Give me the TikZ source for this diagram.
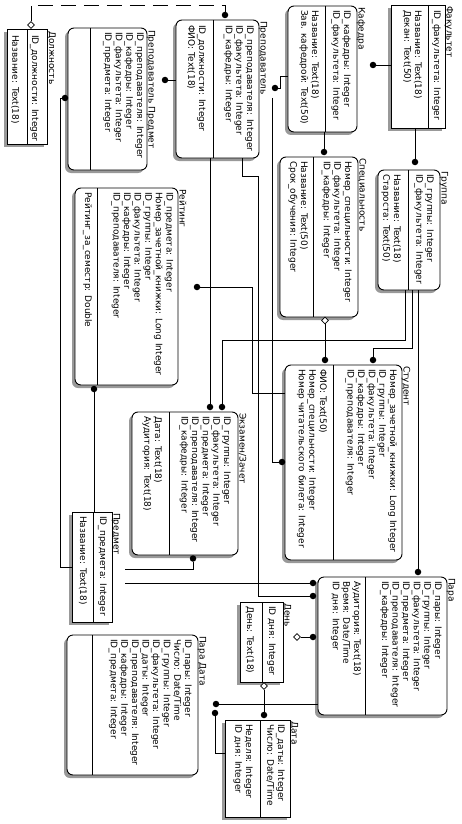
\documentclass[tikz,border=0pt]{standalone}
\usepackage{fontspec}
\setmainfont{DejaVu Sans}
\usetikzlibrary{shapes.geometric}
\newcommand\erfont{\fontsize{9}{10.6}\selectfont}
\newcommand\lsp{10.6}
\tikzset{
 ent/.style={draw, fill=white, inner sep=0pt, outer sep=0pt, line width=0.9pt},
 sq/.style={},
 rd/.style={rounded corners=6pt},
 shad/.style={fill=black!40},
 attr/.style={rotate=-90, inner sep=0pt, anchor=base west, font=\erfont},
 dotn/.style={circle, fill=black, inner sep=0pt, minimum size=6.5pt},
 dia/.style={diamond, draw, fill=white, inner sep=0pt, minimum size=7pt, line width=0.6pt},
 link/.style={line width=0.9pt},
 dlink/.style={line width=0.9pt, dash pattern=on 15pt off 8pt},
}
\newcommand\ent[7]{%
  \fill[shad,#1] (#3-3,#4+3) rectangle (#5-3,#6+3);
  \node[ent,#1,anchor=north west,minimum width=#5pt-#3pt,minimum height=#6pt-#4pt] (#2) at (#3,#4) {};
  \draw[link] (#7,#4) -- (#7,#6);}
\newcommand\attrs[4]{\foreach \t [count=\i from 0] in {#4} {\node[attr] (#1-\i) at (#2-\i*\lsp,#3) {\t};}}
\begin{document}
\begin{tikzpicture}[x=1pt,y=-1pt]
\useasboundingbox (0,0) rectangle (461,824);
\fill[white] (0,0) rectangle (461,824);

% Должность
\ent{sq}{dolzh}{7}{29}{47}{144}{27}
\node[attr] (dolzh-t) at (49,31) {Должность};
\attrs{dolzhk}{32}{35}{{ID\_должности: Integer}}
\attrs{dolzhn}{12.5}{35}{{Название: Text(18)}}

% Преподаватель Предмет
\ent{rd}{pp}{68}{28}{147}{170}{90}
\node[attr] (pp-t) at (148.5,30) {Преподаватель Предмет};
\attrs{ppk}{137}{32}{{ID\_преподавателя: Integer},{ID\_кафедры: Integer},{ID\_факультета: Integer},{ID\_предмета: Integer}}

% Преподаватель
\ent{rd}{prep}{176}{20}{259}{158}{213}
\node[attr] (prep-t) at (260.5,21) {Преподаватель};
\attrs{prepk}{247}{25}{{ID\_преподавателя: Integer},{ID\_факультета: Integer},{ID\_кафедры: Integer}}
\attrs{prepn}{199}{25}{{ID\_должности: Integer},{ФИО: Text(18)}}

% Кафедра
\ent{rd}{kaf}{288}{6}{357}{132}{325}
\node[attr] (kaf-t) at (358.5,7) {Кафедра};
\attrs{kafk}{344}{10}{{ID\_кафедры: Integer},{ID\_факультета: Integer}}
\attrs{kafn}{312}{10}{{Название: Text(18)},{Зав. кафедрой: Text(50)}}

% Факультет
\ent{sq}{fak}{391}{5}{445}{128}{428}
\node[attr] (fak-t) at (446.5,6) {Факультет};
\attrs{fakk}{434}{10}{{ID\_факультета: Integer}}
\attrs{fakn}{415}{10}{{Название: Text(18)},{Декан: Text(50)}}

% Группа
\ent{rd}{gr}{378}{170}{440}{290}{408}
\node[attr] (gr-t) at (441.5,171) {Группа};
\attrs{grk}{427}{174}{{ID\_группы: Integer},{ID\_факультета: Integer}}
\attrs{grn}{394}{174}{{Название: Text(18)},{Староста: Text(50)}}

% Специальность
\ent{rd}{spec}{280}{157}{358}{317}{313}
\node[attr] (spec-t) at (359.5,158) {Специальность};
\attrs{speck}{345}{161}{{Номер\_специльности: Integer},{ID\_факультета: Integer},{ID\_кафедры: Integer}}
\attrs{specn}{301}{161}{{Название: Text(50)},{Срок\_обучения: Integer}}

% Рейтинг
\ent{rd}{reit}{75}{188}{178}{385}{97}
\node[attr] (reit-t) at (179.5,189) {Рейтинг};
\attrs{reitk}{166.5}{192}{{ID\_предмета: Integer},{Номер\_зачетной\_книжки: Long Integer},{ID\_группы: Integer},{ID\_факультета: Integer},{ID\_кафедры: Integer},{ID\_преподавателя: Integer}}
\attrs{reitn}{85}{192}{{Рейтинг\_за\_семестр: Double}}

% Студент
\ent{rd}{stud}{285}{365}{402}{560}{333}
\node[attr] (stud-t) at (403.5,366) {Студент};
\attrs{studk}{390}{369}{{Номер\_зачетной\_книжки: Long Integer},{ID\_группы: Integer},{ID\_факультета: Integer},{ID\_кафедры: Integer},{ID\_преподавателя: Integer}}
\attrs{studn}{320}{369}{{ФИО: Text(50)},{Номер\_специльности: Integer},{Номер читательского билета: Integer}}

% Экзамен/Зачет
\ent{rd}{ekz}{132}{412}{238}{555}{169}
\node[attr] (ekz-t) at (239.5,413) {Экзамен/Зачет};
\attrs{ekzk}{224}{416}{{ID\_группы: Integer},{ID\_факультета: Integer},{ID\_предмета: Integer},{ID\_преподавателя: Integer},{ID\_кафедры: Integer}}
\attrs{ekzn}{155}{416}{{Дата: Text(18)},{Аудитория: Text(18)}}

% Предмет
\ent{sq}{pred}{72}{512}{112}{622}{93}
\node[attr] (pred-t) at (113.5,513) {Предмет};
\attrs{predk}{100}{516}{{ID\_предмета: Integer}}
\attrs{predn}{80}{516}{{Название: Text(18)}}

% Пара
\ent{rd}{para}{318}{577}{447}{715}{365}
\node[attr] (para-t) at (448.5,578) {Пара};
\attrs{parak}{435}{581}{{ID\_пары: Integer},{ID\_группы: Integer},{ID\_факультета: Integer},{ID\_предмета: Integer},{ID\_преподавателя: Integer},{ID\_кафедры: Integer}}
\attrs{paran}{354}{581}{{Аудитория: Text(18)},{Время: Date/Time},{ID дня: Integer}}

% День
\ent{sq}{den}{240}{602}{283}{682}{262}
\node[attr] (den-t) at (284.5,603) {День};
\attrs{denk}{269}{606}{{ID дня: Integer}}
\attrs{denn}{247}{606}{{День: Text(18)}}

% Дата
\ent{sq}{data}{225}{720}{290}{817}{260}
\node[attr] (data-t) at (291.5,721) {Дата};
\attrs{datak}{278}{724}{{ID\_даты: Integer},{Число: Date/Time}}
\attrs{datan}{246}{724}{{Неделя: Integer},{ID дня: Integer}}

% Пара Дата
\ent{rd}{pd}{67}{635}{198}{775}{92}
\node[attr] (pd-t) at (199.5,636) {Пара Дата};
\attrs{pdk}{185}{639}{{ID\_пары: Integer},{Число: Date/Time},{ID\_группы: Integer},{ID\_факультета: Integer},{ID\_даты: Integer},{ID\_преподавателя: Integer},{ID\_кафедры: Integer},{ID\_предмета: Integer}}

% connectors
\node[dotn] (d1) at (225,15) {};
\node[dia] (a1) at (31,25) {};
\draw[dlink] (a1.north) -- (31,5) -- (225,5) -- (d1);

\node[dotn] (d2) at (165,80) {};
\draw[link] (d2) -- (d2 -| prep.west);

\node[dotn] (d3) at (65,98) {};
\draw[link] (pred.west |- 0,567) -| (60,98) -- (d3);

\node[dotn] (d4) at (275,88) {};
\draw[link] (kaf.west |- 0,76) -| (280,88) -- (d4);

\node[dotn] (d5) at (373,65) {};
\draw[link] (fak.west |- d5) -- (d5);

\node[dotn] (d6) at (415,162) {};
\draw[link] (fak.south -| d6) -- (d6);

\node[dotn] (d7) at (324,152) {};
\draw[link] (kaf.south -| d7) -- (d7);

\node[dotn] (d8) at (325,360) {};
\node[dia] (a8) at (325,320.5) {};
\draw[link] (a8) -- (d8);

\node[dotn] (d9) at (222,407) {};
\draw[link] (gr.south -| 405,0) |- (222,340) -- (d9);

\node[dotn] (d10) at (373,360) {};
\draw[link] (gr.south -| 412,0) |- (373,348) -- (d10);

\node[dotn] (d11) at (418,572) {};
\draw[link] (gr.south -| d11) -- (d11);

\node[dotn] (d12) at (210,407) {};
\draw[link] (prep.south -| d12) -- (d12);

\coordinate (s13) at (272,98);
\node[dotn] (d13) at (282,462) {};
\draw[link] (s13) |- (d13);

\node[dotn] (d14) at (197,287) {};
\draw[link] (stud.west |- 0,393) -| (252,287) -- (d14);

\node[dotn] (d15) at (94,389) {};
\draw[link] (pred.north -| d15) -- (d15);

\coordinate (s16) at (125,569);
\node[dotn] (d16) at (193,558.5) {};
\draw[link] (s16) -| (d16);

\coordinate (s17) at (125,583);
\node[dotn] (d17) at (313,583) {};
\draw[link] (s17) -- (d17);

\node[dotn] (d18) at (313,596) {};
\draw[link] (prep.south -| 242,0) |- (258,176) |- (d18);

\node[dotn] (d19) at (313,637) {};
\node[dia] (a19) at (297,637) {};
\draw[link] (a19) -- (d19);

\node[dotn] (d20) at (264,715) {};
\node[dia] (a20) at (264,686) {};
\draw[link] (a20) -- (d20);

\node[dotn] (d21) at (216,704) {};
\draw[link] (para.west |- d21) -- (d21);

\node[dotn] (d22) at (215,713) {};
\draw[link] (data.west |- 0,753) -| (d22);
\end{tikzpicture}
\end{document}
